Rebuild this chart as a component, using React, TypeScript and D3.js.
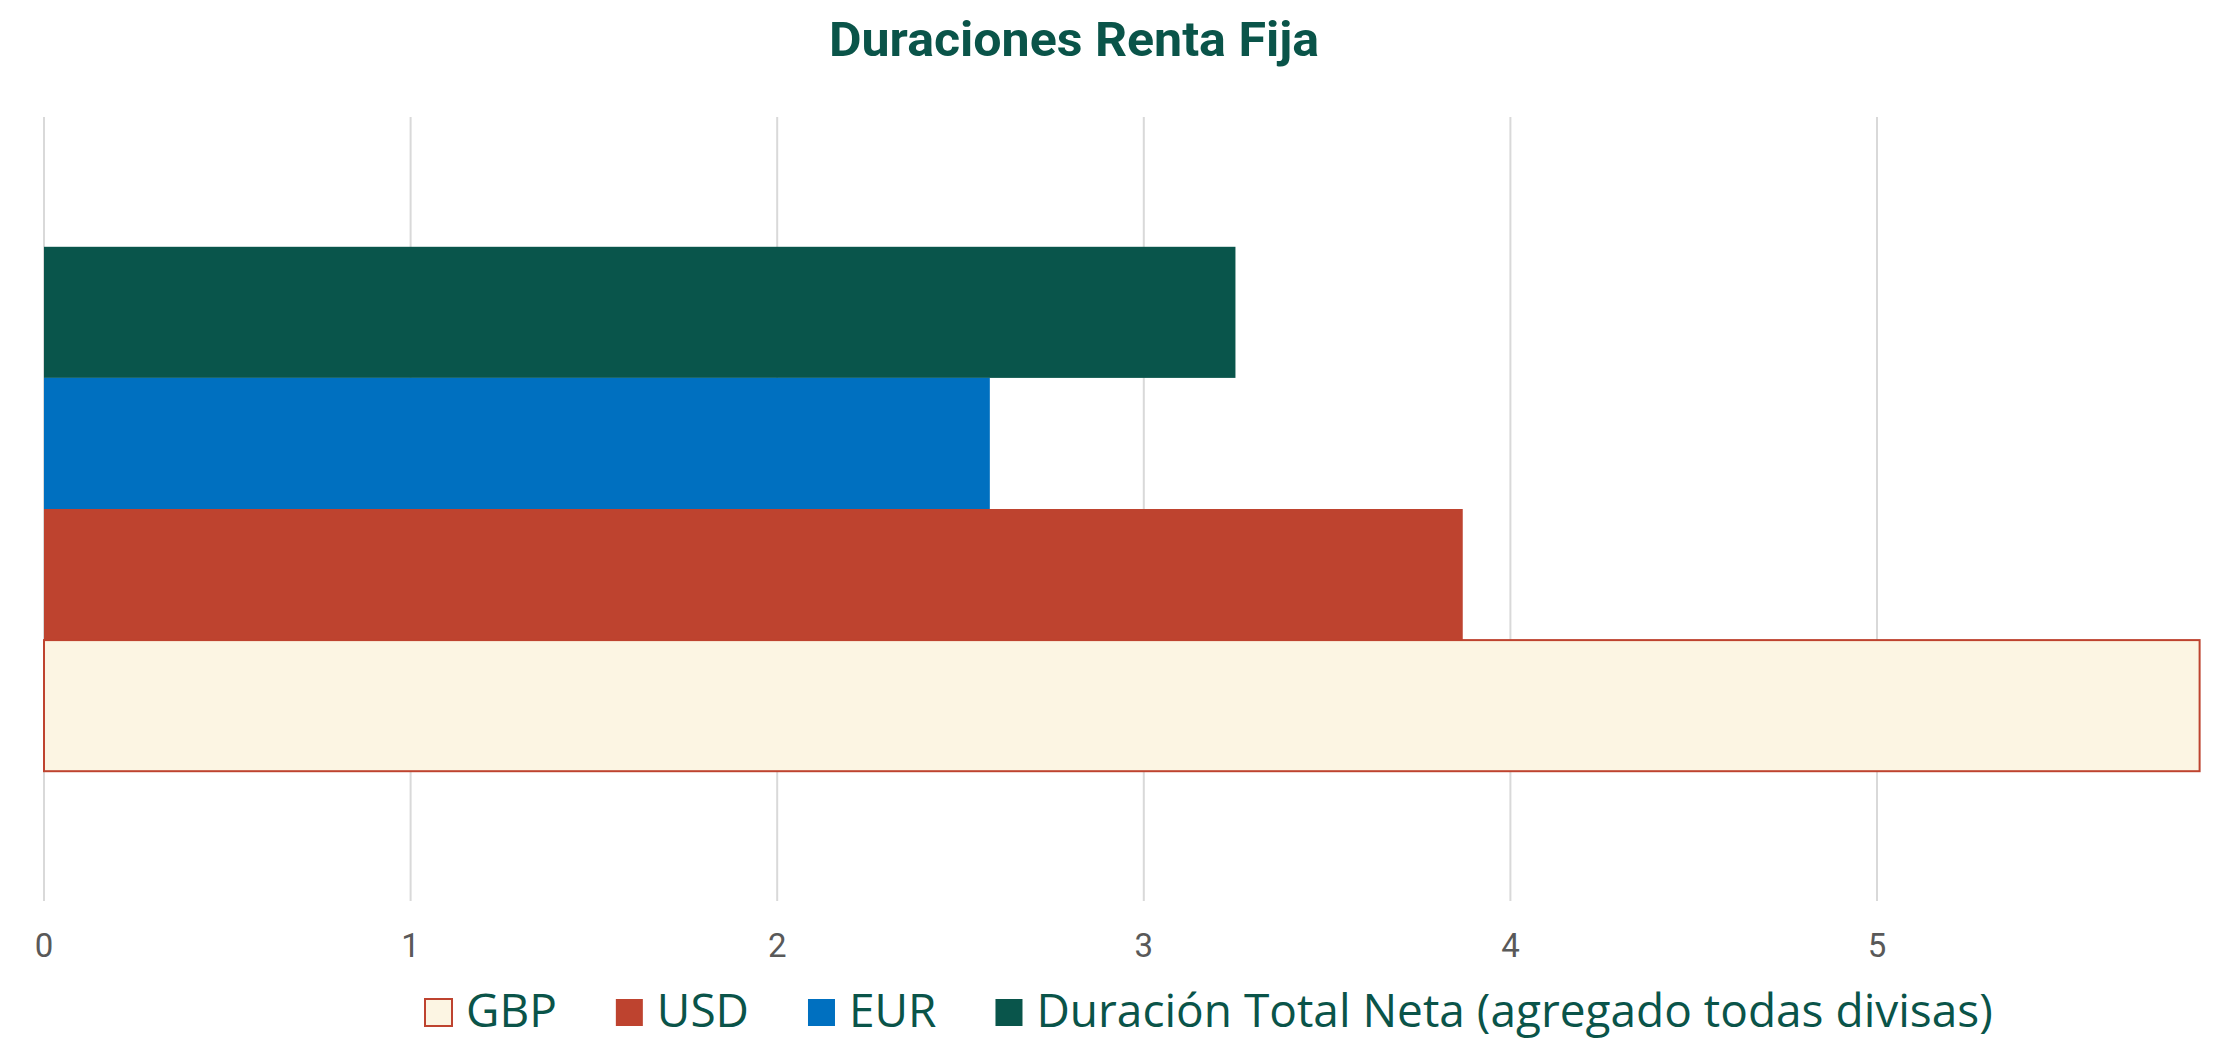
import React, { useEffect, useRef } from 'react';
import * as d3 from 'd3';

const title = 'Duraciones Renta Fija';
const series = ['Duración Total Neta (agregado todas divisas)', 'EUR', 'USD', 'GBP'];
const values = [3.25, 2.58, 3.87, 5.88];
const fills = ['#09554b', '#0070c0', '#be432f', '#fcf5e3'];
const strokes = ['none', 'none', 'none', '#be432f'];
const legendOrder = ['GBP', 'USD', 'EUR', 'Duración Total Neta (agregado todas divisas)'];
const tickValues = [0, 1, 2, 3, 4, 5];

const W = 2234;
const H = 1041;
const FONT = 'Roboto, "Noto Sans", sans-serif';
const LEGEND_FONT = '"Open Sans", "Noto Sans", sans-serif';
const DARK = '#0a5449';

export default function App() {
  const ref = useRef<SVGSVGElement | null>(null);

  useEffect(() => {
    const svg = d3.select(ref.current);
    svg.selectAll('*').remove();

    const plotTop = 117;
    const plotBottom = 901;
    const x = d3.scaleLinear().domain([0, 6]).range([44, 44 + 6 * 366.6]);
    const y = d3.scaleBand<string>().domain(series).range([plotTop, plotBottom]).paddingInner(0).paddingOuter(0.99);

    // gridlines
    svg.append('g')
      .selectAll('line')
      .data(tickValues)
      .join('line')
      .attr('x1', (d) => x(d))
      .attr('x2', (d) => x(d))
      .attr('y1', plotTop)
      .attr('y2', plotBottom)
      .attr('stroke', '#d9d9d9')
      .attr('stroke-width', 2);

    // bars
    svg.append('g')
      .selectAll('rect')
      .data(series.map((s, i) => ({ s, v: values[i], fill: fills[i], stroke: strokes[i] })))
      .join('rect')
      .attr('x', x(0))
      .attr('y', (d) => y(d.s)!)
      .attr('width', (d) => x(d.v) - x(0))
      .attr('height', y.bandwidth())
      .attr('fill', (d) => d.fill)
      .attr('stroke', (d) => d.stroke)
      .attr('stroke-width', 2);

    // tick labels
    svg.append('g')
      .selectAll('text')
      .data(tickValues)
      .join('text')
      .attr('x', (d) => x(d))
      .attr('y', 957)
      .attr('text-anchor', 'middle')
      .attr('font-family', FONT)
      .attr('font-size', 33)
      .attr('fill', '#595959')
      .text((d) => String(d));

    // title
    svg.append('text')
      .attr('x', 1074)
      .attr('y', 56)
      .attr('text-anchor', 'middle')
      .attr('font-family', FONT)
      .attr('font-weight', 'bold')
      .attr('font-size', 48)
      .attr('fill', DARK)
      .attr('textLength', 490)
      .attr('lengthAdjust', 'spacingAndGlyphs')
      .text(title);

    // legend
    const lg = svg.append('g');
    let cx = 424;
    legendOrder.forEach((name) => {
      const i = series.indexOf(name);
      lg.append('rect')
        .attr('x', cx + 1)
        .attr('y', 999)
        .attr('width', 27)
        .attr('height', 27)
        .attr('fill', fills[i])
        .attr('stroke', strokes[i])
        .attr('stroke-width', 2);
      const t = lg.append('text')
        .attr('x', cx + 42)
        .attr('y', 1027)
        .attr('font-family', LEGEND_FONT)
        .attr('font-size', 46)
        .attr('fill', DARK)
        .text(name);
      const w = (t.node() as SVGTextElement).getComputedTextLength();
      cx = cx + 42 + w + 58;
    });
  }, []);

  return (
    <svg
      ref={ref}
      width={W}
      height={H}
      style={{ position: 'absolute', left: 0, top: 0, background: '#ffffff' }}
    />
  );
}
